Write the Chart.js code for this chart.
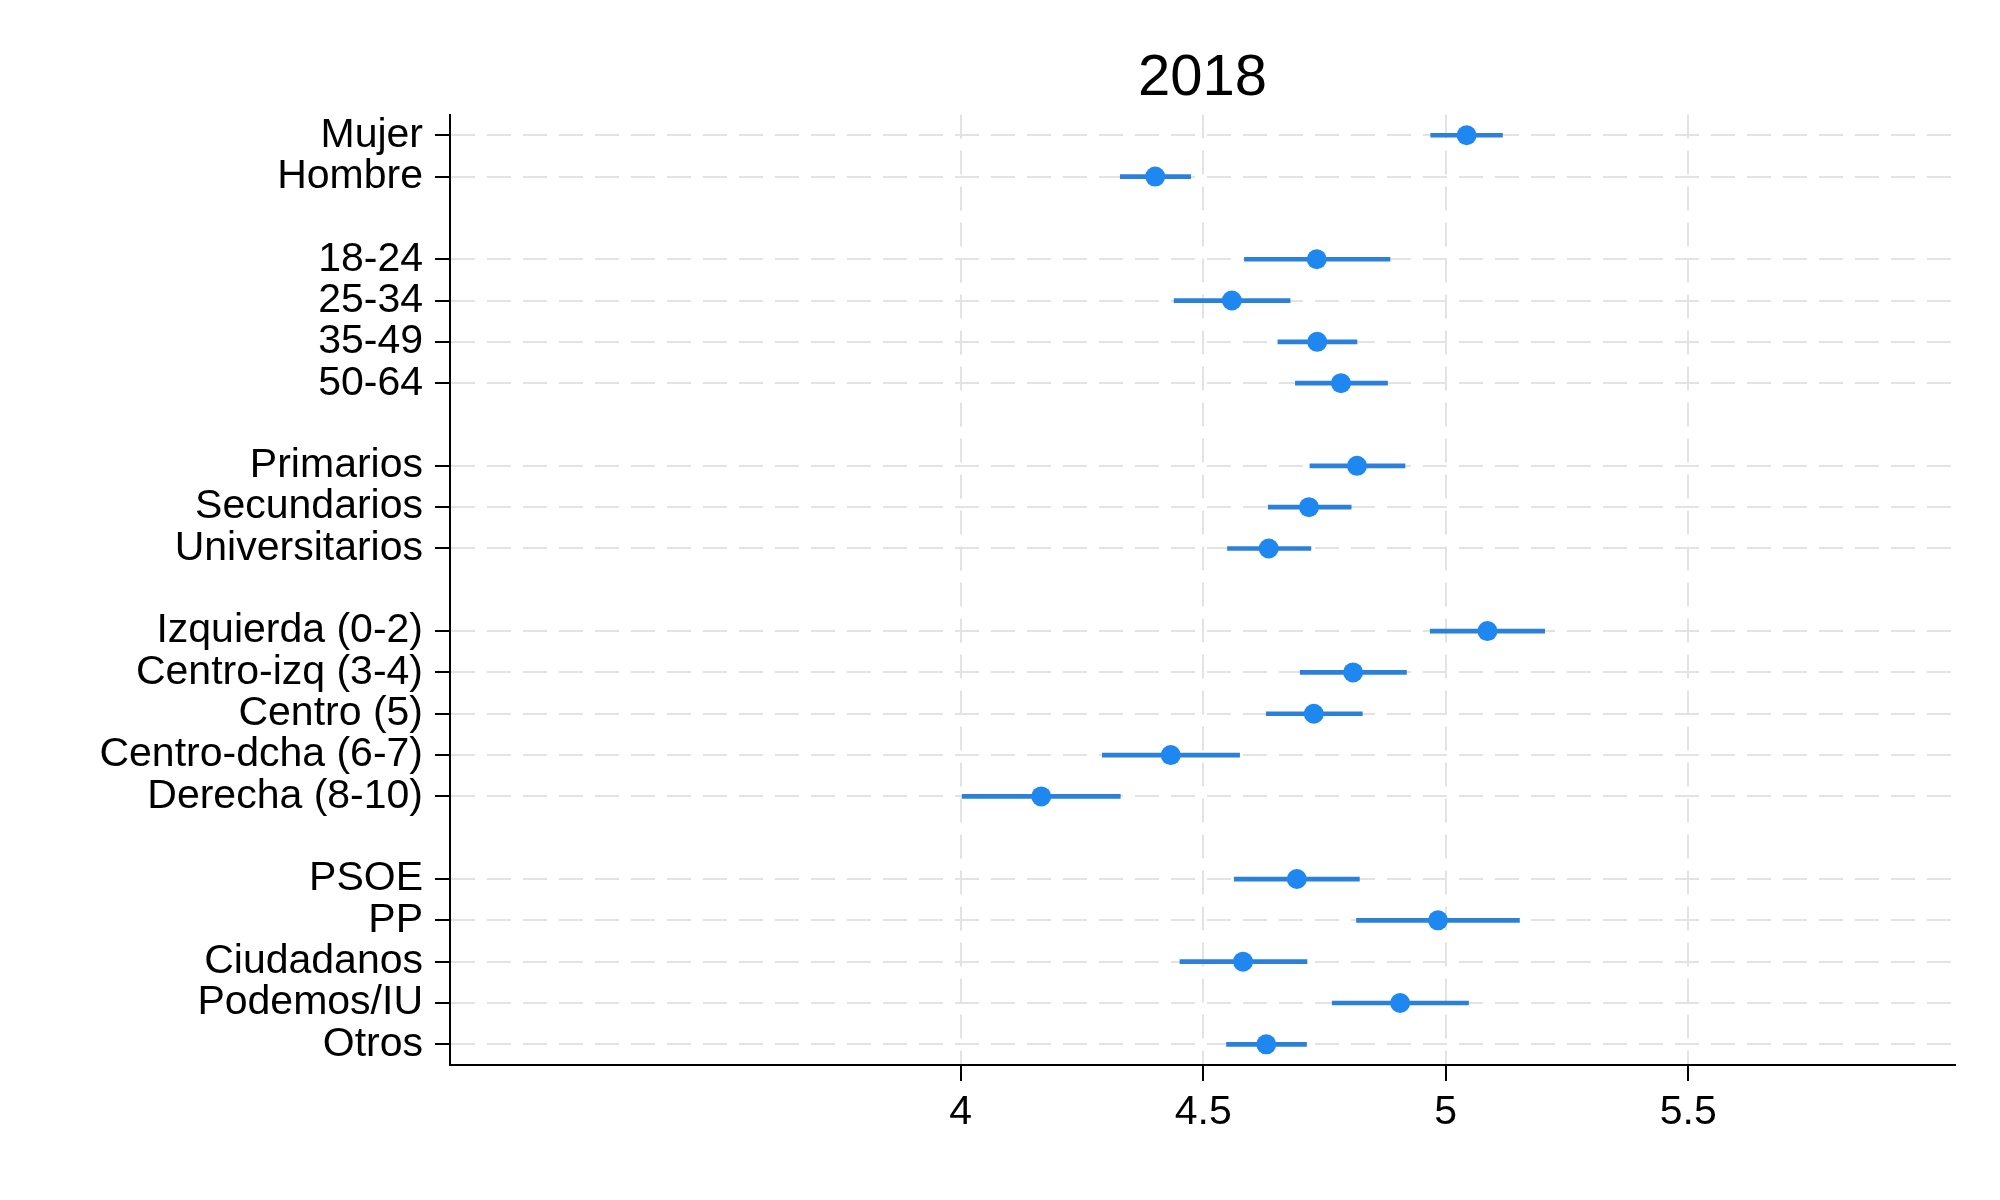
<!DOCTYPE html>
<html>
<head>
<meta charset="utf-8">
<script src="https://cdn.jsdelivr.net/npm/chart.js@4/dist/chart.umd.min.js"></script>
<style>
  html, body { margin: 0; padding: 0; background: #ffffff; }
  #wrap { width: 2000px; height: 1200px; }
</style>
</head>
<body>
<div id="wrap"><canvas id="c" width="2000" height="1200"></canvas></div>
<script>
// ---- data ----
const title = '2018';
const categories = [
  'Mujer', 'Hombre', '',
  '18-24', '25-34', '35-49', '50-64', '',
  'Primarios', 'Secundarios', 'Universitarios', '',
  'Izquierda (0-2)', 'Centro-izq (3-4)', 'Centro (5)', 'Centro-dcha (6-7)', 'Derecha (8-10)', '',
  'PSOE', 'PP', 'Ciudadanos', 'Podemos/IU', 'Otros'
];
const estimates = [
  5.043, 4.401, null,
  4.734, 4.559, 4.735, 4.784, null,
  4.817, 4.718, 4.635, null,
  5.086, 4.809, 4.728, 4.433, 4.166, null,
  4.693, 4.984, 4.582, 4.906, 4.630
];
const lower = [
  4.969, 4.329, null,
  4.585, 4.440, 4.654, 4.690, null,
  4.720, 4.634, 4.550, null,
  4.968, 4.700, 4.630, 4.292, 4.003, null,
  4.564, 4.816, 4.452, 4.766, 4.548
];
const upper = [
  5.117, 4.474, null,
  4.885, 4.679, 4.817, 4.880, null,
  4.916, 4.805, 4.722, null,
  5.204, 4.919, 4.828, 4.575, 4.329, null,
  4.822, 5.152, 4.714, 5.047, 4.713
];
const xTicks = [4, 4.5, 5, 5.5];
const xMin = 2.947;
const xMax = 6.05;

// ---- chart ----
const FONT = '"Liberation Sans", Arial, Helvetica, sans-serif';
const GRID = '#e3e3e3';
const intervals = lower.map((l, i) => (l === null ? null : [l, upper[i]]));

new Chart(document.getElementById('c'), {
  type: 'bar',
  data: {
    labels: categories,
    datasets: [
      {
        type: 'line',
        indexAxis: 'y',
        data: estimates,
        showLine: false,
        pointRadius: 10,
        pointHoverRadius: 10,
        pointBackgroundColor: '#1e87f0',
        pointBorderWidth: 0,
        order: 0
      },
      {
        type: 'bar',
        indexAxis: 'y',
        data: intervals,
        backgroundColor: '#2b80dc',
        borderWidth: 0,
        borderSkipped: false,
        barThickness: 4,
        order: 1
      }
    ]
  },
  options: {
    indexAxis: 'y',
    responsive: false,
    devicePixelRatio: 1,
    animation: false,
    events: [],
    layout: { padding: { left: 0, right: 45, top: 0, bottom: 0 } },
    plugins: {
      legend: { display: false },
      tooltip: { enabled: false },
      title: {
        display: true,
        fullSize: false,
        text: title,
        color: '#000',
        font: { family: FONT, size: 58, weight: 'normal' },
        padding: { top: 44, bottom: 1 }
      }
    },
    scales: {
      x: {
        type: 'linear',
        min: xMin,
        max: xMax,
        afterBuildTicks: (s) => { s.ticks = xTicks.map(v => ({ value: v })); },
        afterFit: (s) => { s.height = 135; },
        grid: {
          color: GRID,
          lineWidth: 2,
          tickColor: '#000',
          tickWidth: 2,
          tickLength: 16,
          tickBorderDash: []
        },
        border: { display: true, color: '#000', width: 2, dash: [24, 12] },
        ticks: {
          color: '#000',
          font: { family: FONT, size: 41 },
          padding: 7,
          maxRotation: 0,
          autoSkip: false,
          callback: (v) => String(v)
        }
      },
      y: {
        type: 'category',
        afterFit: (s) => { s.width = 450; },
        grid: {
          offset: false,
          color: (ctx) => (categories[ctx.index] ? GRID : 'rgba(0,0,0,0)'),
          lineWidth: 2,
          tickColor: (ctx) => (categories[ctx.index] ? '#000' : 'rgba(0,0,0,0)'),
          tickWidth: 2,
          tickLength: 15,
          tickBorderDash: []
        },
        border: { display: true, color: '#000', width: 2, dash: [24, 12] },
        ticks: {
          color: '#000',
          font: { family: FONT, size: 41 },
          padding: 12,
          autoSkip: false
        }
      }
    }
  }
});
</script>
</body>
</html>
